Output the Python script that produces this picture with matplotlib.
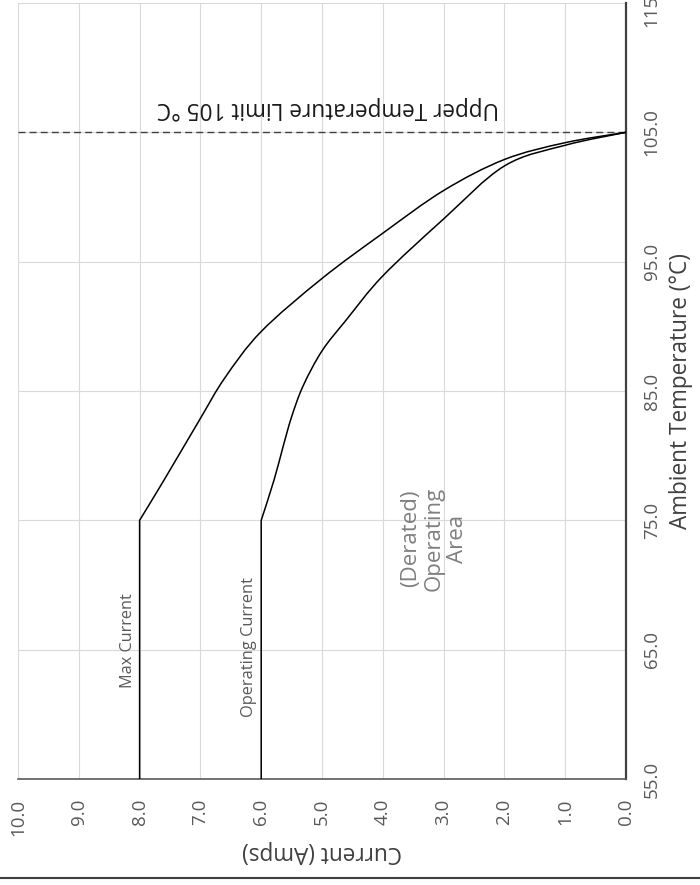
import matplotlib
matplotlib.use('Agg')
import matplotlib.pyplot as plt
from matplotlib.lines import Line2D
from matplotlib.path import Path
from matplotlib.patches import PathPatch

plt.rcParams['font.family'] = ['Open Sans', 'DejaVu Sans']

# temperature axis (deg C) and current axis (Amps)
temp_ticks = [55, 65, 75, 85, 95, 105, 115]
current_ticks = [10, 9, 8, 7, 6, 5, 4, 3, 2, 1, 0]

# derating curves: current (A) vs ambient temp (C)
max_current = [8.0, 8.0, 7.60, 7.01, 6.60, 6.00, 5.00, 4.00, 3.00, 2.00, 1.00, 0.0]
max_temp = [55, 75, 78.1, 82.8, 86.0, 89.6, 93.7, 97.2, 100.5, 102.9, 104.2, 105]

op_current = [6.0, 6.0, 5.79, 5.64, 5.50, 5.31, 5.00, 4.60, 4.00, 3.00, 2.00,
              1.00, 0.0]
op_temp = [55, 75, 78.1, 80.7, 83.0, 85.4, 88.1, 90.5, 93.9, 98.3, 102.4,
           104.0, 105]

limit_temp = 105


def smooth_path(xs, ys):
    # straight flat part, then a smoothed line through the points (like a
    # spreadsheet "smoothed line" series)
    pts = list(zip(xs, ys))
    verts = [pts[0], pts[1]]
    codes = [Path.MOVETO, Path.LINETO]
    rest = pts[1:]
    n = len(rest)
    for i in range(n - 1):
        p0 = rest[i - 1] if i > 0 else rest[i]
        p1 = rest[i]
        p2 = rest[i + 1]
        p3 = rest[i + 2] if i + 2 < n else rest[i + 1]
        c1 = (p1[0] + (p2[0] - p0[0]) / 6, p1[1] + (p2[1] - p0[1]) / 6)
        c2 = (p2[0] - (p3[0] - p1[0]) / 6, p2[1] - (p3[1] - p1[1]) / 6)
        verts += [c1, c2, p2]
        codes += [Path.CURVE4] * 3
    return Path(verts, codes)


def main():
    fig = plt.figure(figsize=(7, 8.85), dpi=100)
    ax = fig.add_axes([18/700, 1 - 779/885, 608/700, 776/885])

    ax.set_xlim(10, 0)
    ax.set_ylim(55, 115)

    ax.set_xticks(current_ticks)
    ax.set_xticklabels(['%.1f' % v for v in current_ticks], rotation=90)
    ax.yaxis.tick_right()
    ax.yaxis.set_label_position('right')
    ax.set_yticks(temp_ticks)
    ax.set_yticklabels(['%.1f' % v for v in temp_ticks], rotation=90, va='center')
    ax.tick_params(axis='x', length=0, pad=14, labelsize=13.5, labelcolor='#595959')
    ax.tick_params(axis='y', length=0, pad=12, labelsize=13.5, labelcolor='#595959')

    ax.grid(color='#d9d9d9', lw=0.8)
    ax.set_axisbelow(True)
    ax.spines['left'].set_visible(False)
    ax.spines['top'].set_visible(False)
    ax.spines['right'].set_color('#404040')
    ax.spines['right'].set_linewidth(1.6)
    ax.spines['bottom'].set_color('#595959')
    ax.spines['bottom'].set_linewidth(1.2)

    for xs, ys in [(max_current, max_temp), (op_current, op_temp)]:
        ax.add_patch(PathPatch(smooth_path(xs, ys), fill=False, edgecolor='black',
                               lw=1.1, clip_on=False, zorder=3))
    ax.axhline(limit_temp, color='#404040', lw=1.0, ls=(0, (5, 3)))

    ax.text(4.9, 106.9, 'Upper Temperature Limit 105 °C', rotation=180,
            ha='center', va='center', fontsize=16.3, color='#1a1a1a')
    ax.text(8.19, 65.7, 'Max Current', rotation=90, ha='center', va='center',
            fontsize=11.7, color='#595959')
    ax.text(6.2, 65.2, 'Operating Current', rotation=90, ha='center', va='center',
            fontsize=11.8, color='#595959')
    ax.text(3.15, 73.6, '(Derated)\nOperating\nArea', rotation=90, ha='center',
            va='center', multialignment='center', fontsize=16, color='#7f7f7f',
            linespacing=1.15)

    ax.set_xlabel('Current (Amps)', rotation=180, fontsize=16.3, color='#404040',
                  labelpad=3)
    ax.set_ylabel('Ambient Temperature (°C)', rotation=90, fontsize=16.3,
                  color='#404040', labelpad=6)

    # frame line along the bottom of the picture
    fig.add_artist(Line2D([0, 1], [1 - 878/885] * 2, transform=fig.transFigure,
                          color='#404040', lw=1.5))

    fig.savefig('out.png', dpi=100)


if __name__ == '__main__':
    main()
